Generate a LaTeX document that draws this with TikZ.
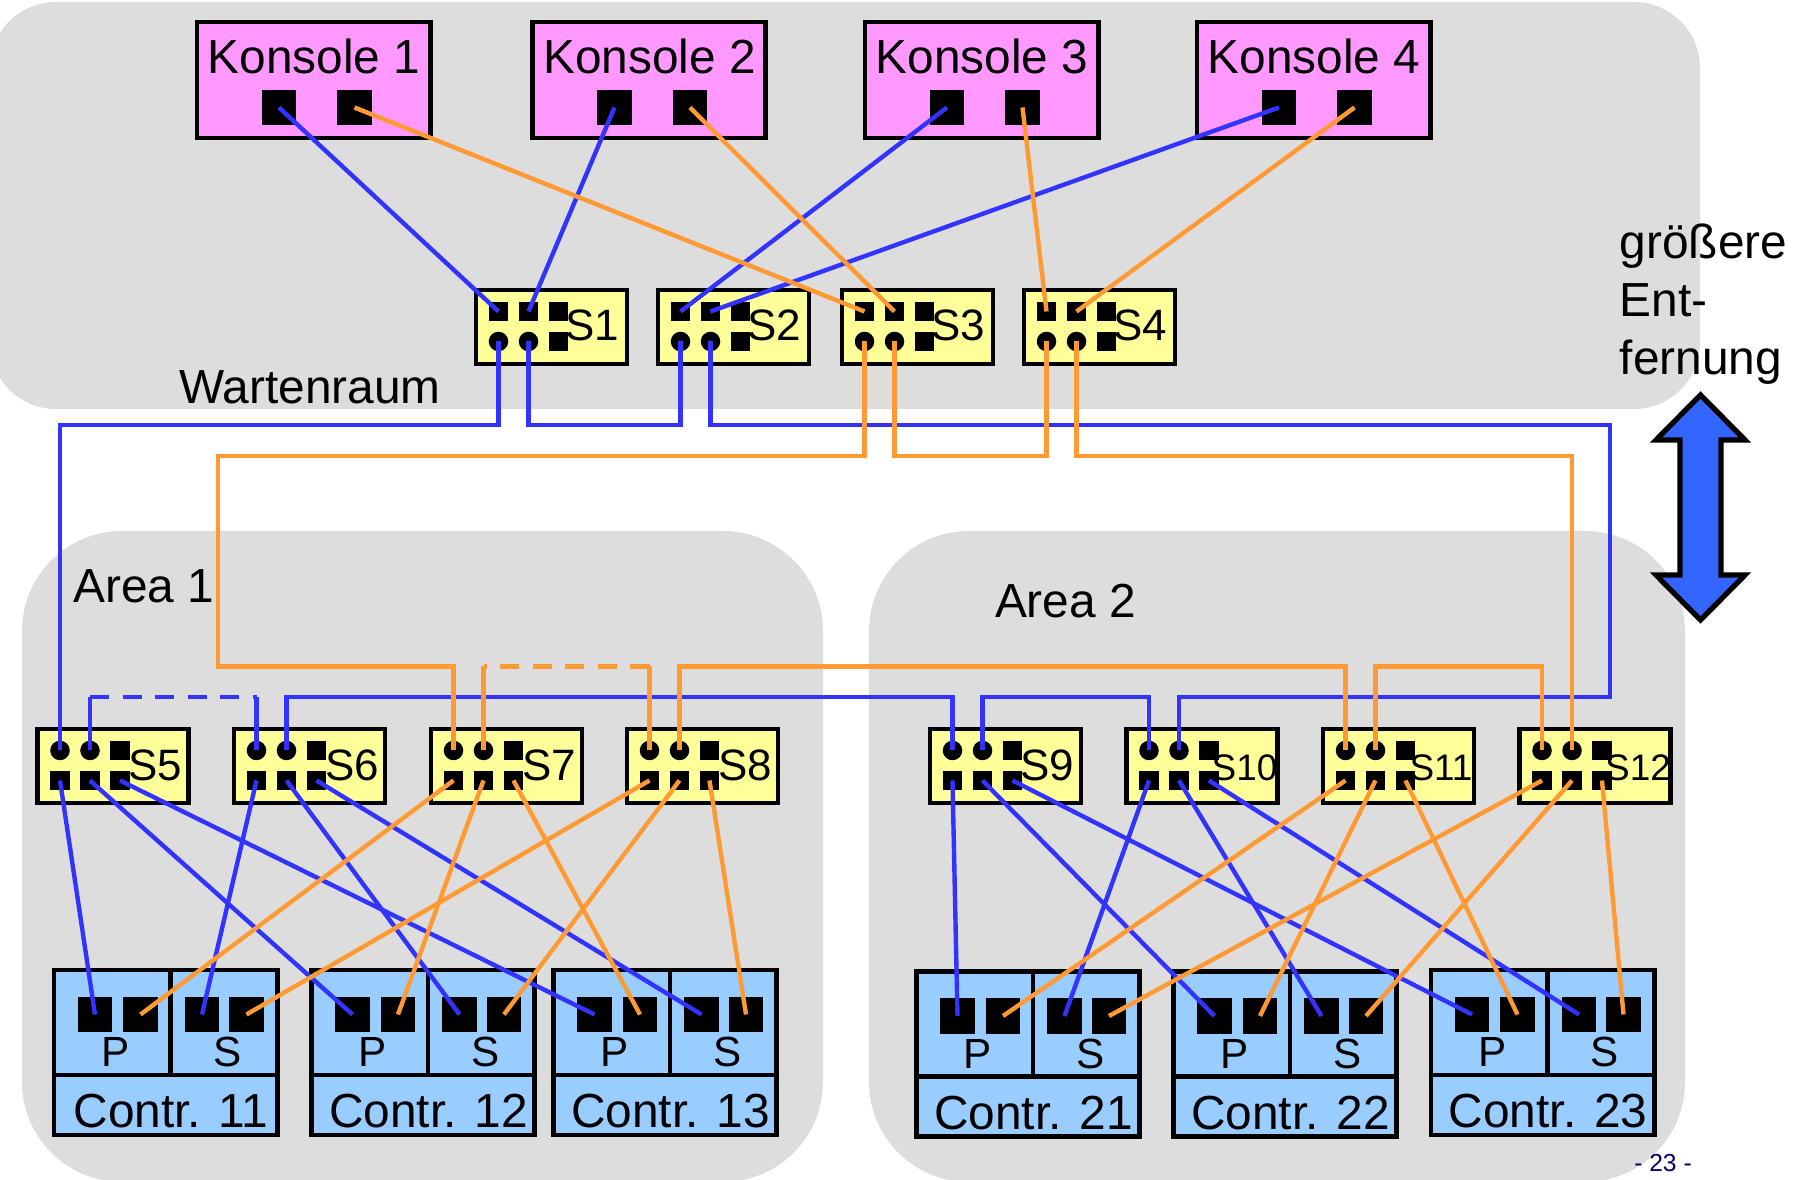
\documentclass[tikz,border=0pt]{standalone}
\usepackage{fontspec}
\setmainfont{Liberation Sans}
\usepackage{tikz}
\usepackage{xcolor}
\usetikzlibrary{positioning}
\usetikzlibrary{calc}

\definecolor{roomgray}{HTML}{DDDDDD}
\definecolor{konspink}{HTML}{FF99FF}
\definecolor{swyellow}{HTML}{FFFF99}
\definecolor{ctblue}{HTML}{99CCFF}
\definecolor{wireblue}{HTML}{3333FF}
\definecolor{wireorange}{HTML}{FF9933}
\definecolor{arrowblue}{HTML}{3366FF}
\definecolor{pagenavy}{HTML}{000066}

\tikzset{
  room/.style={fill=roomgray, draw=none, rounded corners=1cm},
  konsbox/.style={draw, line width=1.35pt, fill=konspink, minimum width=2.33cm, minimum height=1.16cm, anchor=north west, inner sep=0, outer sep=0},
  swbox/.style={draw, line width=1.35pt, fill=swyellow, minimum width=1.51cm, minimum height=0.74cm, anchor=north west, inner sep=0, outer sep=0},
  ctbox/.style={draw, line width=1.35pt, fill=ctblue, minimum width=2.23cm, minimum height=1.65cm, anchor=north west, inner sep=0, outer sep=0},
  bigport/.style={fill=black, minimum width=0.345cm, minimum height=0.35cm, inner sep=0},
  portsq/.style={fill=black, minimum size=0.195cm, inner sep=0},
  portrd/.style={fill=black, circle, minimum size=0.195cm, inner sep=0},
  bigtext/.style={font=\fontsize{13.6}{16}\selectfont, anchor=base, inner sep=0},
  swtext/.style={font=\fontsize{12.5}{15}\selectfont, anchor=base, inner sep=0},
  swsmall/.style={font=\fontsize{10.5}{12}\selectfont, anchor=base, inner sep=0},
  cttext/.style={font=\fontsize{12}{14}\selectfont, anchor=base, inner sep=0},
  blueline/.style={draw=wireblue, line width=1.25pt},
  orangeline/.style={draw=wireorange, line width=1.25pt},
  gapline/.style={dash pattern=on 0.19cm off 0.135cm}
}

% name, left, top, text
\newcommand{\konsole}[4]{
  \node [konsbox] (ko#1) at (#2,#3) {};
  \node [bigtext] (ko#1t) at ({#2+117},{#3+52}) {#4};
  \node [bigport] (ko#1a) at ({#2+82},{#3+85.5}) {};
  \node [bigport] (ko#1b) at ({#2+157.5},{#3+85.5}) {};
}
% name, left, top, upper port, lower port, label style, label offset, label baseline, text
\newcommand{\switchbox}[9]{
  \node [swbox] (sw#1) at (#2,#3) {};
  \node [#4] (sw#1a) at ({#2+22.5},{#3+21.5}) {};
  \node [#4] (sw#1b) at ({#2+52.5},{#3+21.5}) {};
  \node [portsq] (sw#1c) at ({#2+82.5},{#3+21.5}) {};
  \node [#5] (sw#1d) at ({#2+22.5},{#3+51.5}) {};
  \node [#5] (sw#1e) at ({#2+52.5},{#3+51.5}) {};
  \node [portsq] (sw#1f) at ({#2+82.5},{#3+51.5}) {};
  \node [#6] (sw#1t) at ({#2+#7},{#3+#8}) {#9};
}
% name, left, top, text
\newcommand{\controller}[4]{
  \node [ctbox] (ct#1) at (#2,#3) {};
  \draw [line width=1.35pt] ({#2},{#3+105}) -- ({#2+223},{#3+105});
  \draw [line width=1.35pt] ({#2+116.5},{#3}) -- ({#2+116.5},{#3+105});
  \node [bigport] (ct#1a) at ({#2+41},{#3+44.5}) {};
  \node [bigport] (ct#1b) at ({#2+86.5},{#3+44.5}) {};
  \node [bigport] (ct#1c) at ({#2+148},{#3+44.5}) {};
  \node [bigport] (ct#1d) at ({#2+192.5},{#3+44.5}) {};
  \node [cttext] (ct#1p) at ({#2+61.5},{#3+97}) {P};
  \node [cttext] (ct#1s) at ({#2+174},{#3+97}) {S};
  \node [bigtext] (ct#1t) at ({#2+117},{#3+158}) {#4};
}

\begin{document}
\begin{tikzpicture}[x=0.01cm, y=-0.01cm]
\useasboundingbox (0,0) rectangle (1793,1180);

% rooms
\fill [room, rounded corners=0.66cm] (-10,2) rectangle (1700,409);
\fill [room] (22,531) rectangle (823,1182);
\fill [room] (869,531) rectangle (1685,1182);

\node [bigtext] (warte) at (310,404) {Wartenraum};
\node [bigtext] (area1) at (144,603) {Area 1};
\node [bigtext] (area2) at (1065.5,617.5) {Area 2};

\konsole{1}{197}{22}{Konsole 1}
\konsole{2}{532.5}{22}{Konsole 2}
\konsole{3}{865}{22}{Konsole 3}
\konsole{4}{1197}{22}{Konsole 4}

\switchbox{1}{476}{290}{portsq}{portrd}{swtext}{116}{51}{S1}
\switchbox{2}{658}{290}{portsq}{portrd}{swtext}{116}{51}{S2}
\switchbox{3}{842}{290}{portsq}{portrd}{swtext}{116}{51}{S3}
\switchbox{4}{1024}{290}{portsq}{portrd}{swtext}{116}{51}{S4}

\switchbox{5}{37.5}{729}{portrd}{portsq}{swtext}{118}{51.5}{S5}
\switchbox{6}{234}{729}{portrd}{portsq}{swtext}{118}{51.5}{S6}
\switchbox{7}{431}{729}{portrd}{portsq}{swtext}{118}{51.5}{S7}
\switchbox{8}{627}{729}{portrd}{portsq}{swtext}{118}{51.5}{S8}
\switchbox{9}{930}{729}{portrd}{portsq}{swtext}{117}{51.5}{S9}
\switchbox{10}{1126.5}{729}{portrd}{portsq}{swsmall}{118}{51.5}{S10}
\switchbox{11}{1323}{729}{portrd}{portsq}{swsmall}{118}{51.5}{S11}
\switchbox{12}{1519.5}{729}{portrd}{portsq}{swsmall}{118.5}{51.5}{S12}

\controller{11}{54}{970}{Contr. 11}
\controller{12}{311.5}{970}{Contr. 12}
\controller{13}{553.5}{970}{Contr. 13}
\controller{21}{916.5}{971.5}{Contr. 21}
\controller{22}{1173.5}{971.5}{Contr. 22}
\controller{23}{1431}{970}{Contr. 23}

% lanes between the rooms
\coordinate (bluetop) at (0,425);
\coordinate (orangetop) at (0,456);
\coordinate (orangelow) at (0,666.5);
\coordinate (bluelow) at (0,697);
\coordinate (blueside) at (1610,425);

% blue wires
\draw [blueline] (ko1a.center) -- (sw1a.center);
\draw [blueline] (ko2a.center) -- (sw1b.center);
\draw [blueline] (ko3a.center) -- (sw2a.center);
\draw [blueline] (ko4a.center) -- (sw2b.center);

\draw [blueline] (sw1d.center) -- (sw1d.center |- bluetop) -- (sw5a.center |- bluetop) -- (sw5a.center);
\draw [blueline] (sw1e.center) -- (sw1e.center |- bluetop) -- (sw2d.center |- bluetop) -- (sw2d.center);
\draw [blueline] (sw2e.center) -- (sw2e.center |- bluetop) -- (blueside) -- (blueside |- bluelow) -- (sw10b.center |- bluelow) -- (sw10b.center);
\draw [blueline] (sw10a.center) -- (sw10a.center |- bluelow) -- (sw9b.center |- bluelow) -- (sw9b.center);
\draw [blueline] (sw9a.center) -- (sw9a.center |- bluelow) -- (sw6b.center |- bluelow) -- (sw6b.center);
\draw [blueline] (sw6a.center) -- (sw6a.center |- bluelow);
\draw [blueline] (sw5b.center) -- (sw5b.center |- bluelow);
\draw [blueline, gapline] (sw5b.center |- bluelow) -- (sw6a.center |- bluelow);

\draw [blueline] (sw5d.center) -- (ct11a.center);
\draw [blueline] (sw5e.center) -- (ct12a.center);
\draw [blueline] (sw5f.center) -- (ct13a.center);
\draw [blueline] (sw6d.center) -- (ct11c.center);
\draw [blueline] (sw6e.center) -- (ct12c.center);
\draw [blueline] (sw6f.center) -- (ct13c.center);
\draw [blueline] (sw9d.center) -- (ct21a.center);
\draw [blueline] (sw9e.center) -- (ct22a.center);
\draw [blueline] (sw9f.center) -- (ct23a.center);
\draw [blueline] (sw10d.center) -- (ct21c.center);
\draw [blueline] (sw10e.center) -- (ct22c.center);
\draw [blueline] (sw10f.center) -- (ct23c.center);

% orange wires
\draw [orangeline] (ko1b.center) -- (sw3a.center);
\draw [orangeline] (ko2b.center) -- (sw3b.center);
\draw [orangeline] (ko3b.center) -- (sw4a.center);
\draw [orangeline] (ko4b.center) -- (sw4b.center);

\draw [orangeline] (sw3d.center) -- (sw3d.center |- orangetop) -- (218,456) -- (218,666.5) -- (sw7a.center |- orangelow) -- (sw7a.center);
\draw [orangeline] (sw3e.center) -- (sw3e.center |- orangetop) -- (sw4d.center |- orangetop) -- (sw4d.center);
\draw [orangeline] (sw4e.center) -- (sw4e.center |- orangetop) -- (sw12b.center |- orangetop) -- (sw12b.center);
\draw [orangeline] (sw8b.center) -- (sw8b.center |- orangelow) -- (sw11a.center |- orangelow) -- (sw11a.center);
\draw [orangeline] (sw11b.center) -- (sw11b.center |- orangelow) -- (sw12a.center |- orangelow) -- (sw12a.center);
\draw [orangeline] (sw7b.center) -- (sw7b.center |- orangelow);
\draw [orangeline] (sw8a.center) -- (sw8a.center |- orangelow);
\draw [orangeline, gapline] (sw8a.center |- orangelow) -- (sw7b.center |- orangelow);

\draw [orangeline] (sw7d.center) -- (ct11b.center);
\draw [orangeline] (sw7e.center) -- (ct12b.center);
\draw [orangeline] (sw7f.center) -- (ct13b.center);
\draw [orangeline] (sw8d.center) -- (ct11d.center);
\draw [orangeline] (sw8e.center) -- (ct12d.center);
\draw [orangeline] (sw8f.center) -- (ct13d.center);
\draw [orangeline] (sw11d.center) -- (ct21b.center);
\draw [orangeline] (sw11e.center) -- (ct22b.center);
\draw [orangeline] (sw11f.center) -- (ct23b.center);
\draw [orangeline] (sw12d.center) -- (ct21d.center);
\draw [orangeline] (sw12e.center) -- (ct22d.center);
\draw [orangeline] (sw12f.center) -- (ct23d.center);

% distance arrow
\draw [fill=arrowblue, line width=1.5pt] (1700.5,395) -- (1745,440) -- (1721,440) -- (1721,575) -- (1745,575) -- (1700.5,620) -- (1656,575) -- (1680,575) -- (1680,440) -- (1656,440) -- cycle;

\node [bigtext, anchor=base west] (dist1) at (1619,259) {größere};
\node [bigtext, anchor=base west] (dist2) at (1619,317) {Ent-};
\node [bigtext, anchor=base west] (dist3) at (1619,374.5) {fernung};

\node [font=\fontsize{7}{8}\selectfont, text=pagenavy, anchor=base, inner sep=0] (pagenr) at (1663,1172) {- 23 -};
\end{tikzpicture}
\end{document}
